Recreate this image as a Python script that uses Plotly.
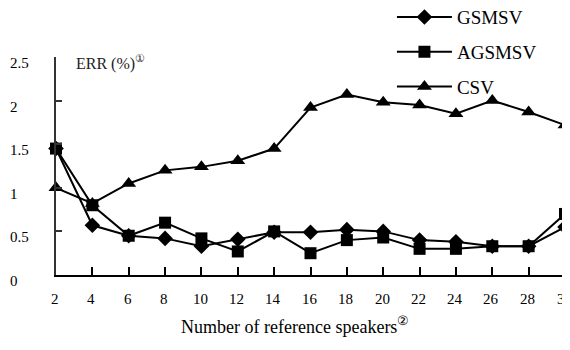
import plotly.graph_objects as go

speakers = [2, 4, 6, 8, 10, 12, 14, 16, 18, 20, 22, 24, 26, 28, 30]
gsmsv = [1.45, 0.57, 0.45, 0.42, 0.33, 0.41, 0.49, 0.49, 0.52, 0.50, 0.40, 0.38, 0.33, 0.33, 0.55]
agsmsv = [1.45, 0.80, 0.45, 0.60, 0.42, 0.27, 0.50, 0.25, 0.40, 0.43, 0.30, 0.30, 0.33, 0.33, 0.70]
csv = [1.00, 0.82, 1.05, 1.20, 1.24, 1.31, 1.45, 1.92, 2.07, 1.98, 1.95, 1.85, 2.00, 1.87, 1.72]
y_ticks = [0, 0.5, 1, 1.5, 2, 2.5]
y_tick_labels = ["0", "0.5", "1", "1.5", "2", "2.5"]
x_tick_labels = [str(v) for v in speakers]

FONT = "Liberation Serif"

fig = go.Figure()
series = [("GSMSV", gsmsv, "diamond", 12), ("AGSMSV", agsmsv, "square", 12), ("CSV", csv, "triangle-up", 13)]
for name, vals, sym, sz in series:
    fig.add_trace(go.Scatter(
        x=speakers, y=vals, name=name, mode="lines+markers", legendgroup=name,
        line=dict(color="black", width=2),
        marker=dict(symbol=sym, size=sz, color="black"),
        cliponaxis=False,
    ))

annotations = []
for v, t in zip(y_ticks, y_tick_labels):
    annotations.append(dict(x=0, xref="paper", xshift=-48, y=v, yref="y", yshift=-6,
                            text=t, showarrow=False, xanchor="left",
                            font=dict(family=FONT, size=15, color="black")))
for v, t in zip(speakers, x_tick_labels):
    annotations.append(dict(x=v, xref="x", y=0, yref="paper", yshift=-24, xshift=-1,
                            text=t, showarrow=False, xanchor="center", yanchor="middle",
                            font=dict(family=FONT, size=15, color="black")))
annotations.append(dict(x=0, xref="paper", xshift=18, y=2.5, yref="y", yshift=-5,
                        text="ERR (%)<sup>①</sup>", showarrow=False, xanchor="left",
                        font=dict(family=FONT, size=16, color="#222")))
annotations.append(dict(x=0.47, xref="paper", y=0, yref="paper", yshift=-50,
                        text="Number of reference speakers<sup>②</sup>", showarrow=False,
                        xanchor="center", yanchor="middle",
                        font=dict(family=FONT, size=18, color="black")))

fig.update_layout(
    width=562, height=342,
    margin=dict(l=48, r=5, t=49, b=75, autoexpand=False),
    paper_bgcolor="white", plot_bgcolor="white",
    font=dict(family=FONT, color="black"),
    showlegend=True,
    legend=dict(x=0.66, y=1.27, xanchor="left", yanchor="top",
                bgcolor="rgba(0,0,0,0)", font=dict(family=FONT, size=19, color="black"),
                itemwidth=55, tracegroupgap=7),
    xaxis=dict(range=[2, 30], tickvals=speakers, showticklabels=False,
               showgrid=False, zeroline=False, showline=True, linecolor="black", linewidth=2,
               ticks="inside", ticklen=8, tickwidth=2, tickcolor="black"),
    yaxis=dict(range=[0, 2.5], tickvals=y_ticks, showticklabels=False,
               showgrid=False, zeroline=False, showline=True, linecolor="#333", linewidth=2,
               ticks="inside", ticklen=6, tickwidth=2, tickcolor="#333"),
    annotations=annotations,
)

fig.write_html("out.html")
